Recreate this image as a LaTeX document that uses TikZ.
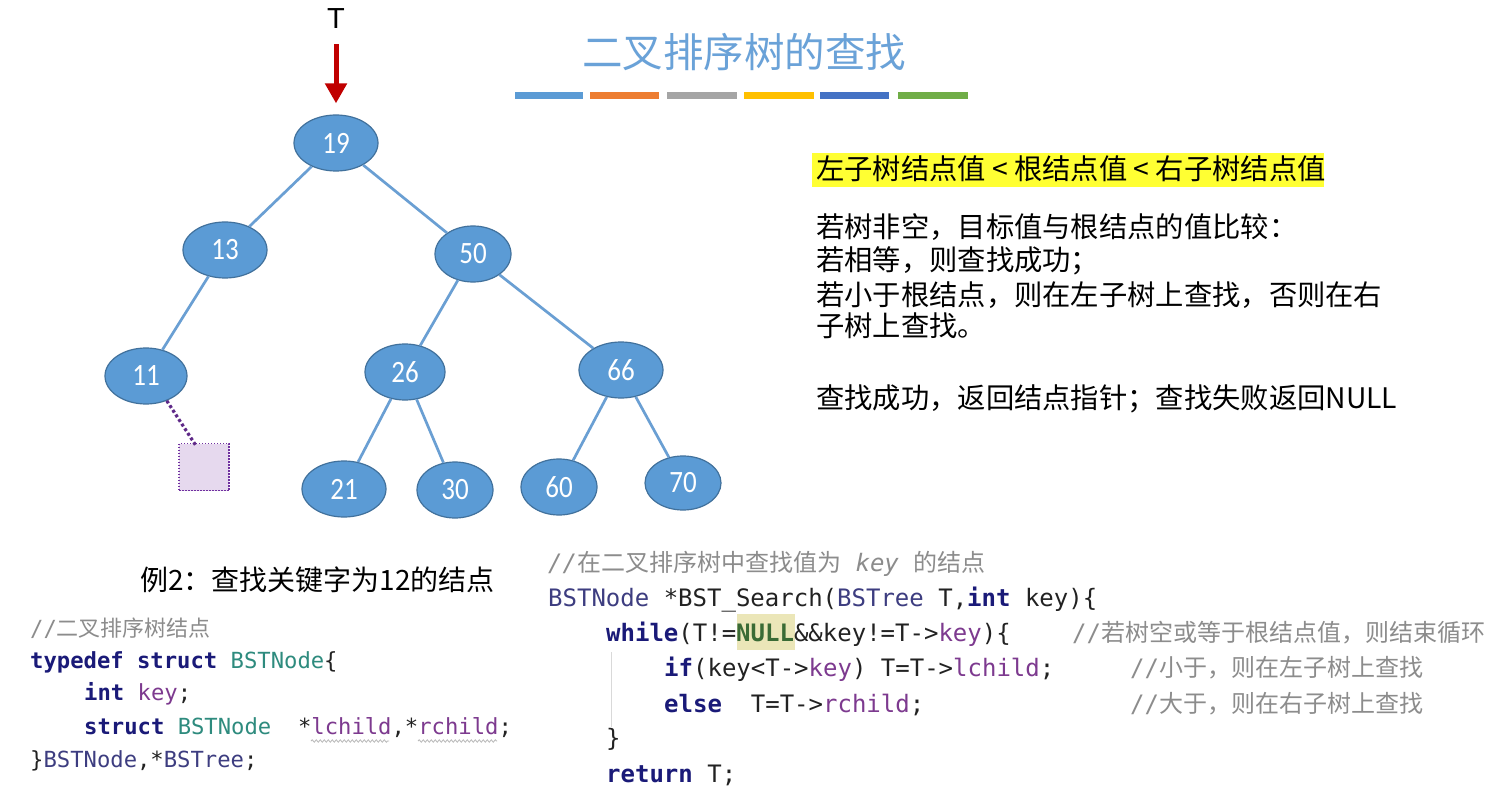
\documentclass[tikz,border=0pt]{standalone}
\usepackage{fontspec}
\usetikzlibrary{shapes.geometric,arrows.meta,decorations.pathmorphing}
\newfontfamily\cjk{Noto Sans CJK SC}
\newfontfamily\mono{DejaVu Sans Mono}
\newfontfamily\lsans{Liberation Sans}
\newfontfamily\calib{Carlito}
\definecolor{nodefill}{HTML}{5B9BD5}
\definecolor{nodeborder}{HTML}{41719C}
\definecolor{edgec}{HTML}{6A9FD3}
\definecolor{titlec}{HTML}{6AA2D8}
\definecolor{barA}{HTML}{5B9BD5}
\definecolor{barB}{HTML}{ED7D31}
\definecolor{barC}{HTML}{A5A5A5}
\definecolor{barD}{HTML}{FFC000}
\definecolor{barE}{HTML}{4472C4}
\definecolor{barF}{HTML}{70AD47}
\definecolor{arrowred}{HTML}{C00000}
\definecolor{sqfill}{HTML}{E6D9EE}
\definecolor{sqdraw}{HTML}{7030A0}
\definecolor{hly}{HTML}{FFFF33}
\definecolor{kwc}{HTML}{1A1A78}
\definecolor{tyc}{HTML}{2E8B7E}
\definecolor{fdc}{HTML}{7D3A8F}
\definecolor{tnc}{HTML}{3D3D80}
\definecolor{cmc}{HTML}{8C8C8C}
\definecolor{nulc}{HTML}{3A6B35}
\definecolor{nulbg}{HTML}{EBE6B8}
\definecolor{plainc}{HTML}{222222}
\newcommand\codekw[1]{{\bfseries\color{kwc}#1}}
\newcommand\codety[1]{{\color{tyc}#1}}
\newcommand\codefd[1]{{\color{fdc}#1}}
\newcommand\codetn[1]{{\color{tnc}#1}}
\newcommand\codecm[1]{{\color{cmc}#1}}
\newcommand\codenul[1]{{\bfseries\color{nulc}#1}}
\newcommand\cjkc[1]{{\cjk\fontsize{24}{24}\selectfont #1}}
\newcommand\numtxt[1]{\scalebox{1}[1.15]{#1}}
\begin{document}
\begin{tikzpicture}[x=1pt,y=-1pt,
  bst/.style={ellipse, draw=nodeborder, line width=1.2pt, fill=nodefill,
    minimum width=84pt, minimum height=56pt, inner sep=0pt, text=white,
    font=\calib\fontsize{27}{27}\selectfont},
  treeedge/.style={draw=edgec, line width=2.7pt},
  bar/.style={line width=7pt},
  rtext/.style={anchor=base west, inner sep=0pt, text=black,
    font=\cjk\fontsize{28.3}{28.3}\selectfont},
  codeL/.style={anchor=base west, inner sep=0pt, text=plainc,
    font=\mono\fontsize{22.2}{22.2}\selectfont},
  codeR/.style={anchor=base west, inner sep=0pt, text=plainc,
    font=\mono\fontsize{24}{24}\selectfont},
]
\useasboundingbox (0,0) rectangle (1494,786);
\fill[white] (0,0) rectangle (1494,786);

% title
\node[anchor=base, inner sep=0pt, text=titlec, font=\cjk\fontsize{40.5}{40.5}\selectfont] (title) at (744,68) {二叉排序树的查找};
\draw[bar, barA] (515,96) -- (583,96);
\draw[bar, barB] (590,96) -- (659,96);
\draw[bar, barC] (667,96) -- (737,96);
\draw[bar, barD] (744,96) -- (814,96);
\draw[bar, barE] (820,96) -- (889,96);
\draw[bar, barF] (898,96) -- (968,96);

% tree
\node[anchor=base, inner sep=0pt, font=\lsans\fontsize{29}{29}\selectfont] (T) at (336,29) {T};
\node[bst] (n19) at (336,143) {\numtxt{19}};
\node[bst] (n13) at (225,250) {\numtxt{13}};
\node[bst, minimum width=76pt] (n50) at (473,254) {\numtxt{50}};
\node[bst, minimum width=82pt] (n11) at (146,376) {\numtxt{11}};
\node[bst, minimum width=80pt] (n26) at (405,372) {\numtxt{26}};
\node[bst] (n66) at (621,370) {\numtxt{66}};
\node[bst] (n21) at (344,489) {\numtxt{21}};
\node[bst, minimum width=76pt] (n30) at (455,490) {\numtxt{30}};
\node[bst, minimum width=76pt] (n60) at (559,487) {\numtxt{60}};
\node[bst, minimum width=76pt, minimum height=54pt] (n70) at (683,483) {\numtxt{70}};
\node[draw=sqdraw, dash pattern=on 1.5pt off 1.5pt, line width=1.5pt, fill=sqfill, minimum width=50pt, minimum height=47pt, inner sep=0pt] (sq) at (204,467) {};

\draw[treeedge] (n19) -- (n13);
\draw[treeedge] (n19) -- (n50);
\draw[treeedge] (n13) -- (n11);
\draw[treeedge] (n50) -- (n26);
\draw[treeedge] (n50) -- (n66);
\draw[treeedge] (n26) -- (n21);
\draw[treeedge] (n26) -- (n30);
\draw[treeedge] (n66) -- (n60);
\draw[treeedge] (n66) -- (n70);
\draw[draw=sqdraw!85!black, line width=3.2pt, dash pattern=on 3pt off 2.5pt] (n11.-50) -- ([xshift=-8pt,yshift=-3pt]sq.north);
\draw[arrowred, line width=5pt, -{Triangle[width=21pt,length=20pt]}, shorten <=15pt, shorten >=11pt] (T.south) -- (n19.north);

% right explanation
\fill[hly] (812,153) rectangle (1324,187);
\node[rtext] (r1) at (816,180) {左子树结点值 < 根结点值 < 右子树结点值};
\node[rtext] (r2) at (816,238) {若树非空，目标值与根结点的值比较：};
\node[rtext] (r3) at (816,271) {若相等，则查找成功；};
\node[rtext] (r4) at (816,306) {若小于根结点，则在左子树上查找，否则在右};
\node[rtext] (r5) at (816,337) {子树上查找。};
\node[rtext] (r6) at (816,408) {查找成功，返回结点指针；查找失败返回NULL};

% example
\node[rtext, font=\cjk\fontsize{28}{28}\selectfont] (ex) at (140,590) {例2：查找关键字为12的结点};

% left code
\node[codeL] (lc1) at (30,636) {\codecm{//{\cjk\fontsize{22}{22}\selectfont 二叉排序树结点}}};
\node[codeL] (lc2) at (30,668) {\codekw{typedef} \codekw{struct} \codety{BSTNode}\{};
\node[codeL] (lc3) at (84,700) {\codekw{int} \codefd{key};};
\node[codeL] (lc4) at (84,734) {\codekw{struct} \codety{BSTNode}\ \ *\codefd{lchild},*\codefd{rchild};};
\node[codeL] (lc5) at (30,767) {\}\codetn{BSTNode},*\codetn{BSTree};};
\draw[draw=gray!55, line width=0.8pt, decorate, decoration={snake, amplitude=1.2pt, segment length=4pt}] (311,741) -- (389,741);
\draw[draw=gray!55, line width=0.8pt, decorate, decoration={snake, amplitude=1.2pt, segment length=4pt}] (418,741) -- (497,741);

% right code
\fill[nulbg] (737,614) rectangle (795,650);
\draw[gray!30, line width=1pt] (611,652) -- (611,727);
\node[codeR] (rc1) at (548,571) {\codecm{\itshape //\cjkc{在二叉排序树中查找值为} key \cjkc{的结点}}};
\node[codeR] (rc2) at (548,606) {\codetn{BSTNode} *BST\_Search(\codetn{BSTree} T,\codekw{int} key)\{};
\node[codeR] (rc3) at (606,641) {\codekw{while}(T!=\codenul{NULL}\&\&key!=T->\codefd{key})\{};
\node[codeR] (rc3c) at (1072,641) {\codecm{//\cjkc{若树空或等于根结点值，则结束循环}}};
\node[codeR] (rc4) at (664,676) {\codekw{if}(key<T->\codefd{key}) T=T->\codefd{lchild};};
\node[codeR] (rc4c) at (1130,676) {\codecm{//\cjkc{小于，则在左子树上查找}}};
\node[codeR] (rc5) at (664,712) {\codekw{else}\ \ T=T->\codefd{rchild};};
\node[codeR] (rc5c) at (1130,712) {\codecm{//\cjkc{大于，则在右子树上查找}}};
\node[codeR] (rc6) at (606,746) {\}};
\node[codeR] (rc7) at (606,782) {\codekw{return} T;};
\end{tikzpicture}
\end{document}
